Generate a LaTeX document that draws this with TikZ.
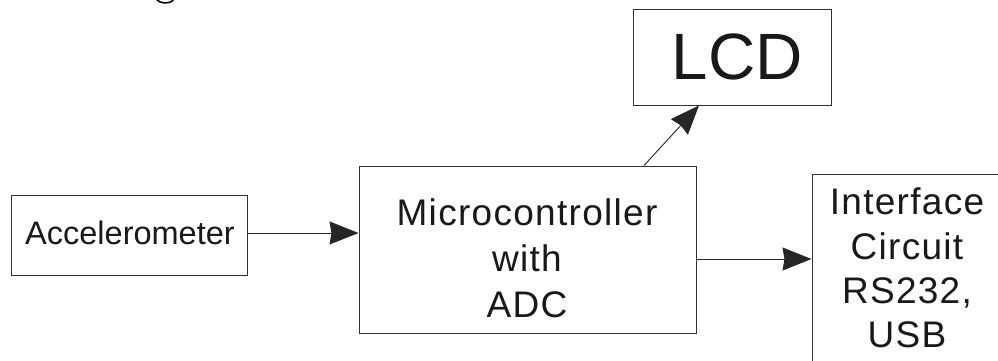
\documentclass[tikz,border=0pt]{standalone}
\usepackage{fontspec}
\setmainfont{Liberation Sans}
\newfontfamily\spacedfont[LetterSpace=3.5]{Liberation Sans}
\usetikzlibrary{arrows.meta}
\begin{document}
\begin{tikzpicture}[x=1pt,y=-1pt,
  box/.style={draw=black!80, line width=1pt, inner sep=0pt},
  txt/.style={inner sep=0pt, align=center, text=black!90},
  arr/.style={draw=black!85, line width=0.9pt, -{Stealth[length=29pt,width=23pt,inset=2pt]}}]
\useasboundingbox (0,0) rectangle (998,360);
\clip (0,0) rectangle (998,360);
\fill[white] (0,0) rectangle (998,360);
% boxes
\node[box, minimum width=236pt, minimum height=80pt] (acc) at (129,235) {};
\node[box, minimum width=337pt, minimum height=167pt] (mc) at (527.5,249.5) {};
\node[box, minimum width=198pt, minimum height=96pt] (lcd) at (732,57) {};
\node[box, minimum width=190pt, minimum height=188pt] (iface) at (907,268) {};
% texts
\node[txt, font=\fontsize{32.5}{40}\selectfont] (acct) at (130,233) {Accelerometer};
\node[txt, font=\spacedfont\fontsize{37}{46}\selectfont] (mct) at (527,258) {Microcontroller\\with\\ADC};
\node[txt, font=\fontsize{65.5}{70}\selectfont] (lcdt) at (737.5,56.5) {LCD};
\node[txt, font=\spacedfont\fontsize{37}{44.3}\selectfont] (ift) at (907,268) {Interface\\Circuit\\RS232,\\USB};
% connectors
\draw[arr] ([yshift=2pt]acc.east) -- ([yshift=2pt]acc.east -| mc.west);
\draw[arr] ([yshift=-9.5pt]mc.east) -- ([yshift=-9.5pt]mc.east -| iface.west);
\draw[arr] ([xshift=116.5pt]mc.north) -- ([xshift=-33pt]lcd.south);
% fragment of cut-off heading
\draw[line width=1.6pt, line cap=round] (157,0) .. controls (160,3.8) and (170,3.8) .. (173,0.5);
\end{tikzpicture}
\end{document}
